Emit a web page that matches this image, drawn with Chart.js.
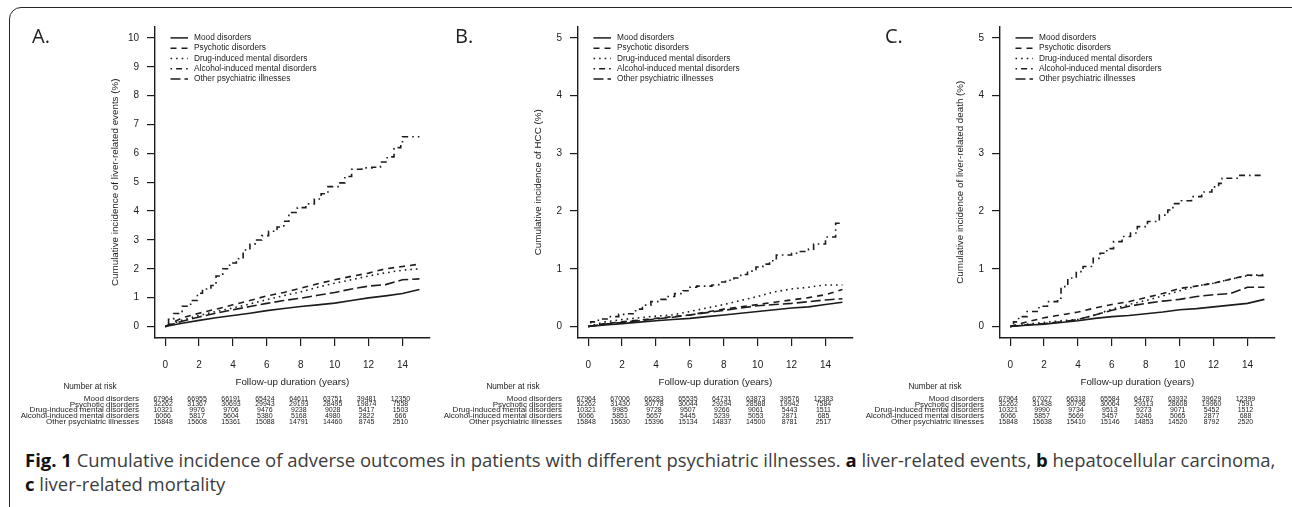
<!DOCTYPE html>
<html>
<head>
<meta charset="utf-8">
<script src="https://cdn.jsdelivr.net/npm/chart.js@4.4.1/dist/chart.umd.min.js"></script>
<style>
  html, body { margin: 0; padding: 0; background: #fff; }
  body { width: 1292px; height: 507px; position: relative; overflow: hidden; }
  #frame { position: absolute; left: 9px; top: 7px; width: 1300px; height: 560px;
           border: 1.6px solid #262626; border-radius: 12px; box-sizing: border-box; }
  canvas { position: absolute; top: 0; }
  .tag { position: absolute; font-family: "Open Sans", sans-serif; font-size: 20px;
         line-height: 20px; color: #222; white-space: nowrap; }
  .cap { position: absolute; left: 25px; font-family: "Open Sans", sans-serif;
         color: #3c3c3c; white-space: nowrap; line-height: 24px; }
  .cap b { color: #111; font-weight: 700; }
</style>
</head>
<body>
<div id="frame"></div>
<canvas id="panelA"></canvas>
<canvas id="panelB"></canvas>
<canvas id="panelC"></canvas>
<div class="tag" style="left:32px; top:26px;">A.</div>
<div class="tag" style="left:455px; top:26px;">B.</div>
<div class="tag" style="left:885px; top:26px;">C.</div>
<div class="cap" id="cap1"><b>Fig. 1</b> Cumulative incidence of adverse outcomes in patients with different psychiatric illnesses. <b>a</b> liver-related events, <b>b</b> hepatocellular carcinoma,</div>
<div class="cap" id="cap2"><b>c</b> liver-related mortality</div>

<script>
// ---- groups and time grids ----
const groups = ['Mood disorders', 'Psychotic disorders', 'Drug-induced mental disorders',
                'Alcohol-induced mental disorders', 'Other psychiatric illnesses'];
const gridYears = [0, 1, 2, 3, 4, 5, 6, 7, 8, 9, 10, 11, 12, 13, 14, 15];
const riskYears = [0, 2, 4, 6, 8, 10, 12, 14];

// ---- panel A: liver-related events (%) ----
const eventsMood      = [0, 0.11, 0.21, 0.30, 0.38, 0.46, 0.55, 0.62, 0.69, 0.75, 0.81, 0.90, 0.99, 1.06, 1.14, 1.28];
const eventsPsychotic = [0, 0.30, 0.46, 0.60, 0.75, 0.90, 1.06, 1.18, 1.33, 1.48, 1.62, 1.74, 1.85, 2.00, 2.08, 2.16];
const eventsDrug      = [0, 0.22, 0.38, 0.52, 0.64, 0.78, 0.93, 1.07, 1.20, 1.36, 1.50, 1.62, 1.75, 1.86, 1.95, 2.00];
const eventsOther     = [0, 0.18, 0.33, 0.46, 0.58, 0.69, 0.80, 0.90, 0.98, 1.08, 1.18, 1.30, 1.40, 1.45, 1.62, 1.65];
const eventsAlcoholYears = [0, 0.2, 0.5, 1.0, 1.5, 1.9, 2.2, 2.7, 3.0, 3.4, 3.8, 4.2, 4.6, 5.0, 5.3, 5.7, 6.1, 6.6,
                            7.0, 7.3, 7.8, 8.3, 8.8, 9.2, 9.6, 10.2, 10.6, 11.0, 11.6, 12.2, 12.7, 13.1, 13.5, 13.9, 14.0, 15.0];
const eventsAlcohol      = [0, 0.25, 0.45, 0.70, 0.90, 1.15, 1.30, 1.42, 1.75, 2.00, 2.20, 2.35, 2.65, 2.85, 3.00, 3.15, 3.30, 3.45,
                            3.65, 3.95, 4.12, 4.25, 4.42, 4.60, 4.85, 4.98, 5.20, 5.45, 5.50, 5.52, 5.70, 5.88, 6.20, 6.30, 6.58, 6.58];

// ---- panel B: HCC (%) ----
const hccMood      = [0, 0.025, 0.05, 0.075, 0.10, 0.12, 0.14, 0.17, 0.20, 0.23, 0.26, 0.29, 0.32, 0.34, 0.38, 0.42];
const hccPsychotic = [0, 0.05, 0.08, 0.11, 0.14, 0.17, 0.20, 0.25, 0.30, 0.34, 0.38, 0.42, 0.46, 0.50, 0.55, 0.64];
const hccDrug      = [0, 0.08, 0.12, 0.15, 0.18, 0.20, 0.26, 0.32, 0.38, 0.45, 0.52, 0.60, 0.65, 0.68, 0.72, 0.72];
const hccOther     = [0, 0.04, 0.07, 0.10, 0.13, 0.16, 0.20, 0.24, 0.28, 0.32, 0.36, 0.38, 0.40, 0.43, 0.46, 0.48];
const hccAlcoholYears = [0, 0.15, 0.6, 1.2, 1.8, 2.3, 2.8, 3.2, 3.7, 4.2, 4.6, 5.1, 5.6, 6.0, 6.4, 7.3, 7.7, 8.1, 8.6, 9.0,
                         9.4, 9.9, 10.3, 10.7, 11.1, 12.0, 12.4, 13.0, 13.3, 14.0, 14.6, 15];
const hccAlcohol      = [0, 0.08, 0.13, 0.17, 0.21, 0.22, 0.30, 0.37, 0.43, 0.47, 0.52, 0.57, 0.62, 0.68, 0.70, 0.72, 0.77, 0.80, 0.84, 0.90,
                         0.96, 1.03, 1.08, 1.14, 1.24, 1.27, 1.30, 1.34, 1.43, 1.55, 1.79, 1.79];

// ---- panel C: liver-related death (%) ----
const deathMood      = [0, 0.02, 0.04, 0.07, 0.10, 0.14, 0.17, 0.19, 0.22, 0.25, 0.29, 0.31, 0.34, 0.37, 0.40, 0.47];
const deathPsychotic = [0, 0.08, 0.15, 0.20, 0.25, 0.32, 0.38, 0.43, 0.50, 0.57, 0.66, 0.70, 0.75, 0.82, 0.89, 0.88];
const deathDrug      = [0, 0.04, 0.07, 0.10, 0.12, 0.20, 0.30, 0.38, 0.45, 0.53, 0.62, 0.70, 0.75, 0.82, 0.88, 0.90];
const deathOther     = [0, 0.03, 0.05, 0.08, 0.12, 0.20, 0.28, 0.35, 0.40, 0.44, 0.47, 0.52, 0.55, 0.57, 0.68, 0.68];
const deathAlcoholYears = [0, 0.2, 0.5, 1.0, 1.7, 2.2, 2.8, 3.0, 3.4, 3.9, 4.3, 4.9, 5.3, 5.7, 6.1, 6.6, 7.1, 7.5, 8.1, 8.8,
                           9.3, 9.6, 10.1, 10.7, 11.3, 11.9, 12.3, 12.5, 13.5, 15];
const deathAlcohol      = [0, 0.08, 0.17, 0.26, 0.35, 0.43, 0.49, 0.69, 0.84, 0.95, 1.04, 1.18, 1.27, 1.35, 1.47, 1.56, 1.62, 1.73, 1.82, 1.93,
                           2.02, 2.13, 2.18, 2.25, 2.33, 2.42, 2.48, 2.57, 2.62, 2.62];

// ---- number at risk ----
const riskEventsMood      = [67964, 66955, 66191, 65424, 64611, 63751, 39481, 12350];
const riskEventsPsychotic = [32262, 31367, 30693, 29943, 29193, 28495, 19874, 7558];
const riskEventsDrug      = [10321, 9976, 9706, 9476, 9238, 9028, 5417, 1503];
const riskEventsAlcohol   = [6066, 5817, 5604, 5380, 5168, 4980, 2822, 666];
const riskEventsOther     = [15848, 15608, 15361, 15088, 14791, 14460, 8745, 2510];

const riskHccMood      = [67964, 67006, 66283, 65535, 64731, 63873, 39576, 12383];
const riskHccPsychotic = [32262, 31430, 30778, 30044, 29294, 28588, 19942, 7584];
const riskHccDrug      = [10321, 9985, 9728, 9507, 9266, 9061, 5443, 1511];
const riskHccAlcohol   = [6066, 5851, 5657, 5445, 5239, 5053, 2871, 685];
const riskHccOther     = [15848, 15630, 15396, 15134, 14837, 14500, 8781, 2517];

const riskDeathMood      = [67964, 67027, 66318, 65584, 64787, 63932, 39629, 12399];
const riskDeathPsychotic = [32262, 31438, 30796, 30064, 29313, 28608, 19960, 7591];
const riskDeathDrug      = [10321, 9990, 9734, 9513, 9273, 9071, 5452, 1512];
const riskDeathAlcohol   = [6066, 5857, 5669, 5457, 5246, 5065, 2877, 688];
const riskDeathOther     = [15848, 15638, 15410, 15146, 14853, 14520, 8792, 2520];

// ---- styling ----
const FONT = '"Liberation Sans", Arial, Helvetica, sans-serif';
const INK = '#1c1c1c';
const DASHES = [[], [6, 5], [1.6, 4], [1.6, 4, 6, 4], [10, 4]];

// plot geometry (px)
const AREA_TOP = 26.5, AREA_BOTTOM = 338, AREA_W = 274.6;
const CANVAS_W = 425, CANVAS_H = 440, LEFT_ROOM = 145;
const Y_BOX = 45.9, X_BOX = 49.9;

function toPoints(xs, ys) { return xs.map((x, i) => ({ x: x, y: ys[i] })); }

// legend in the upper-left corner of each plot
const lineKey = {
  id: 'lineKey',
  afterDatasetsDraw(chart) {
    const ctx = chart.ctx, left = chart.chartArea.left;
    ctx.save();
    chart.data.datasets.forEach((ds, i) => {
      const y = 37.9 + i * 10.3;
      ctx.strokeStyle = INK; ctx.lineWidth = 1.5; ctx.setLineDash(ds.borderDash || []);
      ctx.beginPath(); ctx.moveTo(left + 15.5, y); ctx.lineTo(left + 33, y); ctx.stroke();
      ctx.setLineDash([]);
      ctx.fillStyle = INK; ctx.font = '8.3px ' + FONT;
      ctx.textAlign = 'left'; ctx.textBaseline = 'middle';
      ctx.fillText(ds.label, left + 39, y);
    });
    ctx.restore();
  }
};

// number-at-risk table under the x axis
function riskTable(rows) {
  return {
    id: 'riskTable',
    afterDraw(chart) {
      const ctx = chart.ctx, xs = chart.scales.x, left = chart.chartArea.left;
      ctx.save();
      ctx.fillStyle = INK; ctx.textBaseline = 'middle';
      ctx.font = '8.2px ' + FONT; ctx.textAlign = 'center';
      ctx.fillText('Number at risk', left - 65, 386.7);
      rows.forEach((row, i) => {
        const y = 398.6 + i * 5.8;
        ctx.font = '8px ' + FONT; ctx.textAlign = 'right';
        ctx.fillText(groups[i], left - 16, y);
        ctx.font = '7px ' + FONT; ctx.textAlign = 'center';
        row.forEach((n, j) => ctx.fillText(String(n), xs.getPixelForValue(riskYears[j]) - 2, y));
      });
      ctx.restore();
    }
  };
}

function makePanel(id, axisX, yMax, yTitle, curves, rows) {
  const canvas = document.getElementById(id);
  canvas.width = CANVAS_W; canvas.height = CANVAS_H;
  canvas.style.left = (axisX - LEFT_ROOM) + 'px';
  const datasets = curves.map((c, i) => ({
    label: groups[i],
    data: toPoints(c.x, c.y),
    borderColor: INK, borderWidth: 1.6, borderDash: DASHES[i],
    pointRadius: 0, fill: false, tension: 0,
    stepped: c.stepped ? 'before' : false
  }));
  const yTicks = [];
  for (let v = 0; v <= yMax; v++) yTicks.push(v);
  const gridOpts = { drawOnChartArea: false, drawTicks: true, tickLength: 8, color: INK, lineWidth: 1.2 };
  const borderOpts = { display: true, color: INK, width: 1.4 };
  return new Chart(canvas, {
    type: 'line',
    data: { datasets: datasets },
    options: {
      responsive: false, animation: false, devicePixelRatio: 1,
      layout: { padding: { top: AREA_TOP, left: LEFT_ROOM - Y_BOX,
                           right: CANVAS_W - LEFT_ROOM - AREA_W,
                           bottom: CANVAS_H - AREA_BOTTOM - X_BOX } },
      plugins: { legend: { display: false }, tooltip: { enabled: false } },
      scales: {
        x: {
          type: 'linear', min: -0.6, max: 15.6,
          afterBuildTicks: s => { s.ticks = riskYears.map(v => ({ value: v })); },
          afterFit: s => { s.height = X_BOX; },
          grid: gridOpts, border: borderOpts,
          ticks: { font: { family: FONT, size: 10 }, color: INK, padding: 13.7, maxRotation: 0, autoSkip: false },
          title: { display: true, text: 'Follow-up duration (years)', font: { family: FONT, size: 9.8 }, color: INK, padding: 0 }
        },
        y: {
          type: 'linear', min: -yMax * 0.04, max: yMax * 1.04,
          afterBuildTicks: s => { s.ticks = yTicks.map(v => ({ value: v })); },
          afterFit: s => { s.width = Y_BOX; },
          grid: gridOpts, border: borderOpts,
          ticks: { font: { family: FONT, size: 10 }, color: INK, padding: 8, autoSkip: false },
          title: { display: true, text: yTitle, font: { family: FONT, size: 9.8 }, color: INK, padding: 0 }
        }
      }
    },
    plugins: [lineKey, riskTable(rows)]
  });
}

makePanel('panelA', 155, 10, 'Cumulative incidence of liver-related events (%)', [
  { x: gridYears, y: eventsMood },
  { x: gridYears, y: eventsPsychotic },
  { x: gridYears, y: eventsDrug },
  { x: eventsAlcoholYears, y: eventsAlcohol, stepped: true },
  { x: gridYears, y: eventsOther }
], [riskEventsMood, riskEventsPsychotic, riskEventsDrug, riskEventsAlcohol, riskEventsOther]);

makePanel('panelB', 577.6, 5, 'Cumulative incidence of HCC (%)', [
  { x: gridYears, y: hccMood },
  { x: gridYears, y: hccPsychotic },
  { x: gridYears, y: hccDrug },
  { x: hccAlcoholYears, y: hccAlcohol, stepped: true },
  { x: gridYears, y: hccOther }
], [riskHccMood, riskHccPsychotic, riskHccDrug, riskHccAlcohol, riskHccOther]);

makePanel('panelC', 1000, 5, 'Cumulative incidence of liver-related death (%)', [
  { x: gridYears, y: deathMood },
  { x: gridYears, y: deathPsychotic },
  { x: gridYears, y: deathDrug },
  { x: deathAlcoholYears, y: deathAlcohol, stepped: true },
  { x: gridYears, y: deathOther }
], [riskDeathMood, riskDeathPsychotic, riskDeathDrug, riskDeathAlcohol, riskDeathOther]);

// caption: size the text so the first line spans the frame width
(function fitCaption() {
  const cap1 = document.getElementById('cap1'), cap2 = document.getElementById('cap2');
  const targetWidth = 1251;
  cap1.style.fontSize = '16px';
  const w = cap1.getBoundingClientRect().width;
  const size = 16 * targetWidth / w;
  cap1.style.fontSize = size + 'px';
  cap2.style.fontSize = size + 'px';
  // baselines at about 467 and 491
  const baselineOffset = 12 + (1.069 - 0.681) * size;
  cap1.style.top = (467 - baselineOffset) + 'px';
  cap2.style.top = (491 - baselineOffset) + 'px';
})();
</script>
</body>
</html>
